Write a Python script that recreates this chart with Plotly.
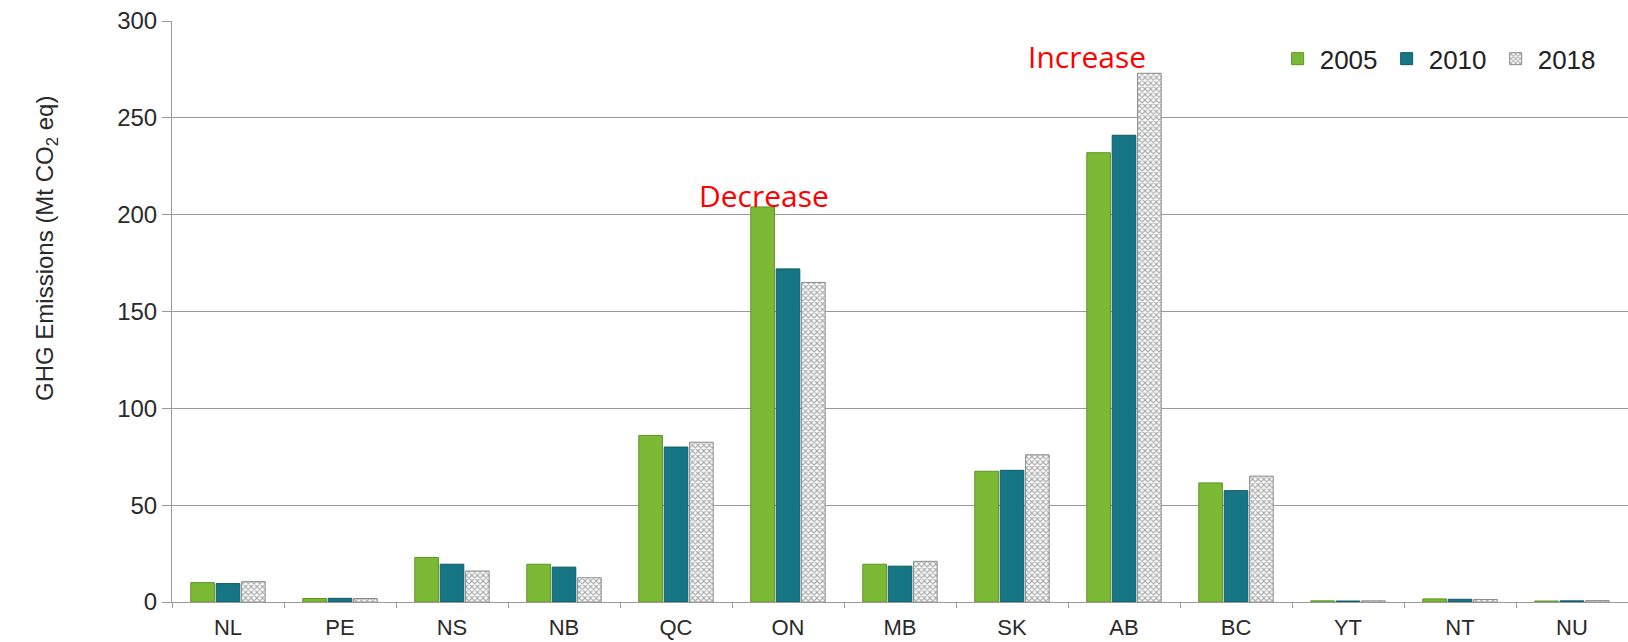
import plotly.graph_objects as go

provinces = ["NL", "PE", "NS", "NB", "QC", "ON", "MB", "SK", "AB", "BC", "YT", "NT", "NU"]
y2005 = [10, 1.8, 23, 19.5, 86, 204, 19.5, 67.5, 232, 61.5, 0.6, 1.6, 0.5]
y2010 = [9.5, 1.9, 19.5, 18, 80, 172, 18.5, 68, 241, 57.5, 0.5, 1.4, 0.6]
y2018 = [10.5, 1.8, 16, 12.5, 82.5, 165, 21, 76, 273, 65, 0.6, 1.3, 0.7]
series_names = ["2005", "2010", "2018"]

fig = go.Figure()
fig.add_trace(go.Bar(x=provinces, y=y2005, name=series_names[0],
                     marker=dict(color="#7cba36", line=dict(color="#5e9424", width=1))))
fig.add_trace(go.Bar(x=provinces, y=y2010, name=series_names[1],
                     marker=dict(color="#167686", line=dict(color="#0f5966", width=1))))
fig.add_trace(go.Bar(x=provinces, y=y2018, name=series_names[2],
                     marker=dict(color="#ffffff", line=dict(color="#8a8a8a", width=1),
                                 pattern=dict(shape="x", fgcolor="#555555", bgcolor="#ffffff",
                                              size=4, solidity=0.5))))

fig.add_annotation(x="ON", y=210, text="Decrease", showarrow=False, xshift=-24,
                   font=dict(family="Open Sans, Lato, sans-serif", size=30, color="#ff0000"))
fig.add_annotation(x="AB", y=281.5, text="Increase", showarrow=False, xshift=-37,
                   font=dict(family="Open Sans, Lato, sans-serif", size=30, color="#ff0000"))
fig.add_annotation(xref="paper", yref="paper", x=0, y=0.6076, xshift=-125,
                   text="GHG Emissions (Mt CO<sub>2</sub> eq)", textangle=-90,
                   showarrow=False, xanchor="center", yanchor="middle",
                   font=dict(family="Liberation Sans, Arial, sans-serif", size=24, color="#2a2a2a"))

fig.update_layout(
    width=1628, height=642,
    paper_bgcolor="white", plot_bgcolor="white",
    margin=dict(l=172, r=0, t=21, b=40),
    barmode="group", bargap=0.32, bargroupgap=0.07,
    font=dict(family="Liberation Sans, Arial, sans-serif", size=21, color="#2a2a2a"),
    legend=dict(orientation="h", x=0.9826, xanchor="right", y=0.935, yanchor="middle",
                font=dict(size=26, color="#222222"), bgcolor="rgba(0,0,0,0)",
                itemwidth=34, entrywidth=60, traceorder="normal"),
    yaxis=dict(range=[0, 300], dtick=50, showgrid=True, gridcolor="#9a9a9a", gridwidth=1,
               showline=True, linecolor="#9a9a9a", linewidth=1, ticks="outside",
               ticklen=9, tickcolor="#9a9a9a", zeroline=False,
               tickfont=dict(size=24, color="#2a2a2a")),
    xaxis=dict(showline=True, linecolor="#9a9a9a", linewidth=1, ticks="outside",
               tickson="boundaries", ticklen=5, tickcolor="#9a9a9a", showgrid=False,
               tickfont=dict(size=22, color="#2a2a2a"), ticklabelstandoff=6),
)

fig.write_html("out.html")
